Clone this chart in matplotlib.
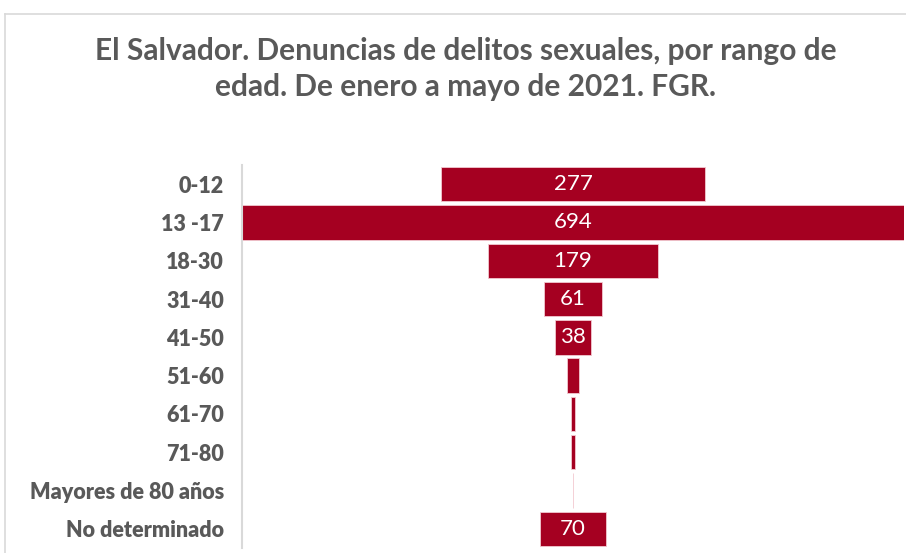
import matplotlib
matplotlib.use("Agg")
import matplotlib.pyplot as plt
from matplotlib.lines import Line2D

categories = ["0-12", "13 -17", "18-30", "31-40", "41-50", "51-60", "61-70",
              "71-80", "Mayores de 80 años", "No determinado"]
values = [277, 694, 179, 61, 38, 12, 4, 5, 1, 70]
show_labels = [True, True, True, True, True, False, False, False, False, True]

title = "El Salvador. Denuncias de delitos sexuales, por rango de\nedad. De enero a mayo de 2021. FGR."

bar_color = "#A50021"
text_gray = "#595959"
line_gray = "#D9D9D9"

plt.rcParams['font.family'] = ['Lato', 'DejaVu Sans']

fig = plt.figure(figsize=(9.06, 5.53), dpi=100)
ax = fig.add_axes([242/906, 1-548/553, (904-242)/906, (548-165)/553])

ypos = list(range(len(categories)))
lefts = [-v/2 for v in values]
ax.barh(ypos, values, left=lefts, height=0.9, color=bar_color,
        edgecolor="#F2C9D0", linewidth=0.6)
for y, v, s in zip(ypos, values, show_labels):
    if s:
        ax.text(0, y, str(v), ha="center", va="center", color="white", fontsize=16)

vmax = max(values)
ax.set_xlim(-vmax/2, vmax/2)
ax.set_ylim(len(categories)-0.5, -0.5)
ax.set_yticks(ypos)
ax.set_yticklabels(categories, fontsize=15.5, fontweight="heavy", color=text_gray)
ax.tick_params(axis="y", length=0, pad=13)
ax.set_xticks([])
for s in ["top", "right", "bottom"]:
    ax.spines[s].set_visible(False)
ax.spines["left"].set_color(line_gray)
ax.spines["left"].set_linewidth(1.5)

fig.text(466/906, 1-69/553, title, ha="center", va="center", fontsize=21.5,
         fontweight="bold", color=text_gray, linespacing=1.32)

fig.add_artist(Line2D([5/906, 1], [1-14/553, 1-14/553], color=line_gray, lw=1.2,
                      transform=fig.transFigure))
fig.add_artist(Line2D([5/906, 5/906], [0, 1-14/553], color=line_gray, lw=1.2,
                      transform=fig.transFigure))

fig.savefig("out.png", dpi=100)
